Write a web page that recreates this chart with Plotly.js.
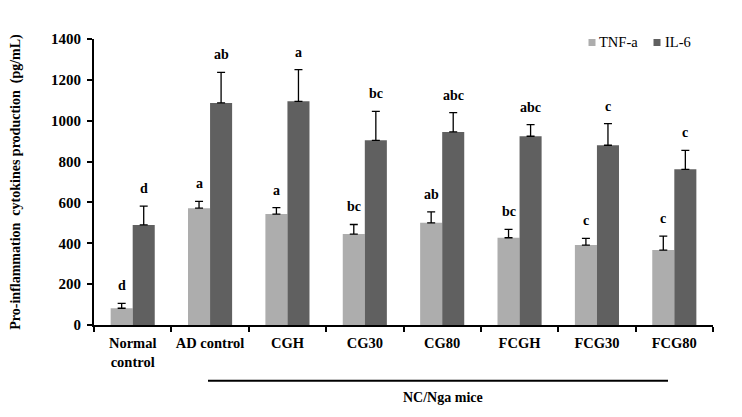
<!DOCTYPE html>
<html>
<head>
<meta charset="utf-8">
<script src="https://cdn.plot.ly/plotly-3.0.1.min.js"></script>
<style>html,body{margin:0;padding:0;background:#fff;}#chart{width:742px;height:417px;}</style>
</head>
<body>
<div id="chart"></div>
<script>
const categories = ['Normal<br>control', 'AD control', 'CGH', 'CG30', 'CG80', 'FCGH', 'FCG30', 'FCG80'];
const tnfValues = [82, 572, 543, 445, 500, 427, 391, 367];
const tnfErrors = [24, 33, 32, 47, 54, 41, 33, 68];
const il6Values = [490, 1087, 1095, 904, 945, 924, 880, 762];
const il6Errors = [92, 150, 155, 142, 95, 57, 106, 93];
const tnfLetters = ['d', 'a', 'a', 'bc', 'ab', 'bc', 'c', 'c'];
const il6Letters = ['d', 'ab', 'a', 'bc', 'abc', 'abc', 'c', 'c'];
const seriesNames = ['TNF-a', 'IL-6'];
const yTickVals = [0, 200, 400, 600, 800, 1000, 1200, 1400];

const W = 742, H = 417;
const M = {l: 94, r: 29, t: 38.5, b: 91.5};
const plotW = W - M.l - M.r, plotH = H - M.t - M.b;
const px = p => (p - M.l) / plotW;
const py = p => (H - M.b - p) / plotH;

const FONT = '"Liberation Serif", "Times New Roman", serif';
const lightCol = '#adadad', darkCol = '#606060';

const errStyle = {color: '#000', thickness: 1.3, width: 4};

const traces = [
  {type: 'bar', name: seriesNames[0], x: categories, y: tnfValues, marker: {color: lightCol},
   error_y: Object.assign({type: 'data', symmetric: false, array: tnfErrors, arrayminus: tnfErrors.map(() => 0)}, errStyle),
   showlegend: false},
  {type: 'bar', name: seriesNames[1], x: categories, y: il6Values, marker: {color: darkCol},
   error_y: Object.assign({type: 'data', symmetric: false, array: il6Errors, arrayminus: il6Errors.map(() => 0)}, errStyle),
   showlegend: false}
];

const annotations = [];
categories.forEach((c, i) => {
  annotations.push({x: c, y: tnfValues[i] + tnfErrors[i], xref: 'x', yref: 'y', text: '<b>' + tnfLetters[i] + '</b>',
    showarrow: false, xshift: -11, yshift: 8, yanchor: 'bottom', font: {family: FONT, size: 14, color: '#000'}});
  annotations.push({x: c, y: il6Values[i] + il6Errors[i], xref: 'x', yref: 'y', text: '<b>' + il6Letters[i] + '</b>',
    showarrow: false, xshift: 11, yshift: 8, yanchor: 'bottom', font: {family: FONT, size: 14, color: '#000'}});
});
// legend texts
annotations.push({x: px(597), y: py(42), xref: 'paper', yref: 'paper', text: seriesNames[0], showarrow: false,
  xanchor: 'left', yanchor: 'middle', font: {family: FONT, size: 14.5, color: '#000'}});
annotations.push({x: px(663), y: py(42), xref: 'paper', yref: 'paper', text: seriesNames[1], showarrow: false,
  xanchor: 'left', yanchor: 'middle', font: {family: FONT, size: 14.5, color: '#000'}});
// group label
annotations.push({x: px(443), y: py(398), xref: 'paper', yref: 'paper', text: '<b>NC/Nga mice</b>', showarrow: false,
  xanchor: 'center', yanchor: 'middle', font: {family: FONT, size: 14, color: '#000'}});

const shapes = [
  {type: 'rect', xref: 'paper', yref: 'paper', x0: px(588.5), x1: px(595.5), y0: py(45.5), y1: py(38.5), fillcolor: lightCol, line: {width: 0}},
  {type: 'rect', xref: 'paper', yref: 'paper', x0: px(653.5), x1: px(660.5), y0: py(45.5), y1: py(38.5), fillcolor: darkCol, line: {width: 0}},
  {type: 'line', xref: 'paper', yref: 'paper', x0: px(208), x1: px(668), y0: py(381.5), y1: py(381.5), line: {color: '#000', width: 2}}
];

const layout = {
  width: W, height: H,
  margin: M,
  paper_bgcolor: '#fff', plot_bgcolor: '#fff',
  font: {family: FONT, color: '#000'},
  showlegend: false,
  barmode: 'group', bargap: 0.43, bargroupgap: 0,
  xaxis: {
    type: 'category', showline: true, linecolor: '#000', linewidth: 2,
    ticks: 'outside', tickson: 'boundaries', ticklen: 5, tickwidth: 2, tickcolor: '#000',
    showgrid: false, zeroline: false, fixedrange: true, tickangle: 0, automargin: false,
    tickfont: {family: FONT, size: 14.5, color: '#000', weight: 'bold'},
    ticklabelstandoff: 4
  },
  yaxis: {
    range: [0, 1400], tickvals: yTickVals, showline: true, linecolor: '#000', linewidth: 2,
    ticks: 'outside', ticklen: 5, tickwidth: 2, tickcolor: '#000',
    showgrid: false, zeroline: false, fixedrange: true, automargin: false,
    tickfont: {family: FONT, size: 15, color: '#000', weight: 'bold'},
    ticklabelstandoff: 3,
    title: {text: '<b>Pro-inflammation  cytokines production  (pg/mL)</b>', font: {family: FONT, size: 14, color: '#000'}, standoff: 27}
  },
  annotations: annotations,
  shapes: shapes
};

Plotly.newPlot('chart', traces, layout, {displayModeBar: false, staticPlot: true});
</script>
</body>
</html>
